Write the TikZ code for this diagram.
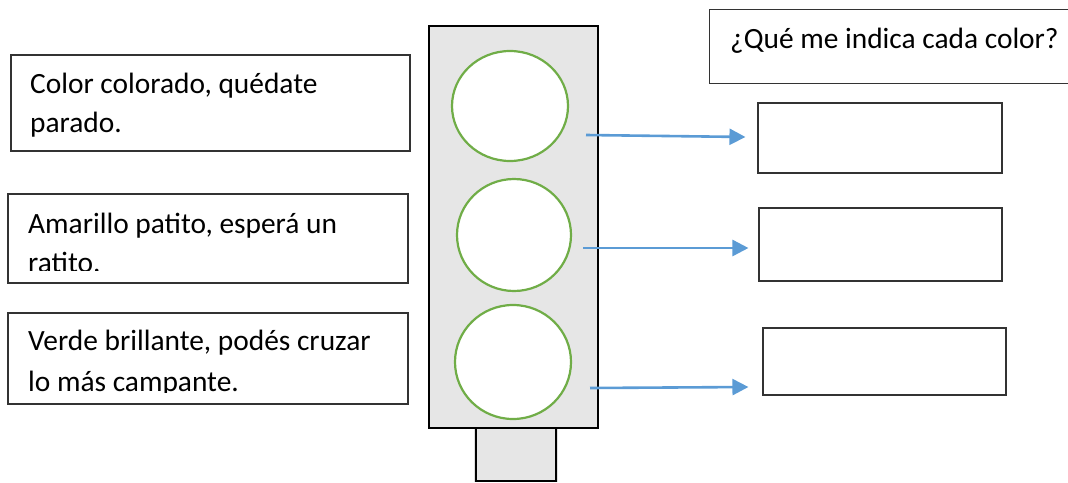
\documentclass[tikz,border=0pt]{standalone}
\usepackage{fontspec}
\setmainfont{Carlito}
\usetikzlibrary{arrows.meta,shadows,shapes.geometric}
\definecolor{lightgreen}{HTML}{70AD47}
\definecolor{arrowblue}{HTML}{5B9BD5}
\definecolor{lightgray}{HTML}{E6E6E6}
\definecolor{boxline}{HTML}{333333}
\tikzset{
  textbox/.style={draw=boxline, line width=1.1pt, fill=white, inner sep=0pt},
  txt/.style={font=\fontsize{29.4}{39}\selectfont, inner sep=0pt, anchor=base west, text=black},
  lamp/.style={draw=lightgreen, line width=2.2pt, fill=white, ellipse},
  body/.style={draw=black, line width=2pt, fill=lightgray},
  link/.style={draw=arrowblue, line width=2.6pt, -{Triangle[length=16pt,width=16pt]}},
}
\begin{document}
\begin{tikzpicture}[x=1pt,y=-1pt]
\useasboundingbox (0,0) rectangle (1068,482);
% left boxes
\node[textbox, minimum width=399pt, minimum height=96pt] (l1) at (210.5,103) {};
\node[textbox, minimum width=400pt, minimum height=89pt] (l2) at (208,238.5) {};
\node[textbox, minimum width=400pt, minimum height=91pt] (l3) at (208,358.5) {};
\node[txt] (l1a) at (30,93) {Color colorado, quédate};
\node[txt] (l1b) at (30,132) {parado.};
\begin{scope}
\clip (0,194) rectangle (420,270);
\node[txt] (l2a) at (28,233) {Amarillo patito, esperá un};
\node[txt] (l2b) at (28,272.5) {ratito.};
\end{scope}
\begin{scope}
\clip (0,313) rectangle (420,392);
\node[txt] (l3a) at (28,350) {Verde brillante, podés cruzar};
\node[txt] (l3b) at (28,391) {lo más campante.};
\end{scope}
% traffic light
\node[body, drop shadow={opacity=0.25, shadow xshift=0pt, shadow yshift=0pt, shadow scale=1.04}, minimum width=80pt, minimum height=53pt, inner sep=0pt] (base) at (516,454.5) {};
\node[body, minimum width=169pt, minimum height=402pt, inner sep=0pt] (pole) at (513.5,227) {};
\node[lamp, minimum width=116pt, minimum height=110pt, inner sep=0pt] (c1) at (510,106) {};
\node[lamp, minimum width=114pt, minimum height=112pt, inner sep=0pt] (c2) at (514,235) {};
\node[lamp, minimum width=116pt, minimum height=114pt, inner sep=0pt] (c3) at (513,362) {};
% right boxes
\node[textbox, minimum width=366pt, minimum height=74pt, anchor=north west] (q) at (709,9) {};
\node[txt] (qt) at (730,48) {¿Qué me indica cada color?};
\node[textbox, minimum width=244pt, minimum height=70pt] (r1) at (880,138) {};
\node[textbox, minimum width=243pt, minimum height=73pt] (r2) at (880.5,244.5) {};
\node[textbox, minimum width=243pt, minimum height=67pt] (r3) at (884.5,361.5) {};
% arrows
\coordinate (s1) at (586,135);
\coordinate (s2) at (583,248);
\coordinate (s3) at (590,388);
\draw[link] (s1) -- ([xshift=-12pt,yshift=1pt]r1.west);
\draw[link] (s2) -- ([xshift=-10pt,yshift=-3.5pt]r2.west);
\draw[link] (s3) -- ([xshift=-14pt,yshift=-25.5pt]r3.west);
\end{tikzpicture}
\end{document}
